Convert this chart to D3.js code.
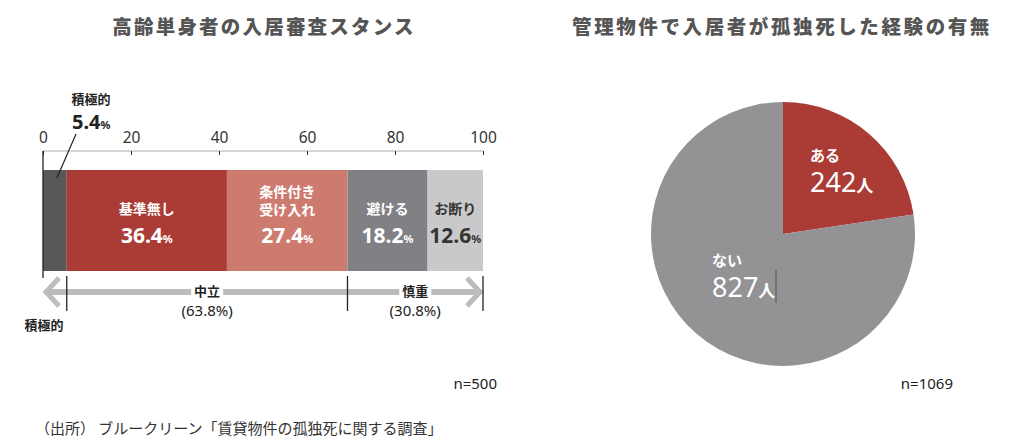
<!DOCTYPE html>
<html><head><meta charset="utf-8">
<script src="https://cdn.jsdelivr.net/npm/d3@7"></script>
<style>
body{margin:0;background:#fff;}
svg{display:block;font-family:"Noto Sans CJK JP","Noto Sans",sans-serif;}
</style></head>
<body>
<svg id="c" width="1012" height="446"></svg>
<script>
// ---- data ----
const barCategories = ["積極的","基準無し","条件付き受け入れ","避ける","お断り"];
const barLabelLines = [["積極的"],["基準無し"],["条件付き","受け入れ"],["避ける"],["お断り"]];
const barValues = [5.4, 36.4, 27.4, 18.2, 12.6];
const barColors = ["#58585a","#aa3b35","#cd7b6f","#818185","#c9c9cb"];
const barTextColors = ["#fff","#fff","#fff","#fff","#333"];
const axisTicks = [0,20,40,60,80,100];
const groupNames = ["中立","慎重"];
const groupValues = [63.8, 30.8];
const groupRanges = [[5.4,69.2],[69.2,100]];
const pieCategories = ["ある","ない"];
const pieValues = [242, 827];
const pieColors = ["#aa3b35","#939396"];
const titles = ["高齢単身者の入居審査スタンス","管理物件で入居者が孤独死した経験の有無"];
const nLabels = ["n=500","n=1069"];
const sourceText = "（出所） ブルークリーン「賃貸物件の孤独死に関する調査」";

const svg = d3.select("#c");
const txtGray = "#555";

// titles
svg.append("text").attr("x",264).attr("y",34).attr("text-anchor","middle")
  .attr("font-size",19.5).attr("font-weight",900).attr("letter-spacing",2.2).attr("fill",txtGray).text(titles[0]);
svg.append("text").attr("x",782).attr("y",34).attr("text-anchor","middle")
  .attr("font-size",19.5).attr("font-weight",900).attr("letter-spacing",2.6).attr("fill",txtGray).text(titles[1]);

// ---- bar chart ----
const x = d3.scaleLinear().domain([0,100]).range([43,483]);
const barTop = 170, barBot = 271;
const axisY = 151;

const ax = svg.append("g").attr("transform",`translate(0,${axisY})`)
  .call(d3.axisTop(x).tickValues(axisTicks).tickSize(-4).tickPadding(8));
ax.select(".domain").attr("stroke","#aaa").attr("d",`M${x(0)},0H${x(100)}`);
ax.selectAll(".tick line").attr("stroke","#333");
ax.selectAll(".tick text").attr("font-size",15.5).attr("fill","#333").attr("font-family","'Noto Sans',sans-serif").attr("dy","0");

// stacked
let cum = 0;
const segs = barValues.map((v,i)=>{const s={i,v,x0:cum,x1:cum+v}; cum+=v; return s;});
svg.append("g").selectAll("rect").data(segs).join("rect")
  .attr("x",d=>x(d.x0)).attr("width",d=>x(d.x1)-x(d.x0))
  .attr("y",barTop).attr("height",barBot-barTop)
  .attr("fill",d=>barColors[d.i]);

// left axis line
svg.append("line").attr("x1",x(0)).attr("x2",x(0)).attr("y1",axisY).attr("y2",278)
  .attr("stroke","#222").attr("stroke-width",1.3);

// inside labels
segs.slice(1).forEach(d=>{
  const cx = (x(d.x0)+x(d.x1))/2;
  const lines = barLabelLines[d.i];
  const g = svg.append("g").attr("fill",barTextColors[d.i]);
  const nameY = lines.length===1 ? 214 : 197;
  lines.forEach((l,k)=>{
    g.append("text").attr("x",cx).attr("y",nameY+k*18).attr("text-anchor","middle")
     .attr("font-size",14).attr("font-weight",700).text(l);
  });
  const t = g.append("text").attr("x",cx).attr("y",243).attr("text-anchor","middle")
    .attr("font-weight",700).attr("font-family","'Noto Sans',sans-serif");
  t.append("tspan").attr("font-size",21).text(d.v.toFixed(1));
  t.append("tspan").attr("font-size",11).text("%");
});

// top callout for 積極的
svg.append("text").attr("x",91).attr("y",104).attr("text-anchor","middle").attr("font-size",13)
  .attr("font-weight",700).attr("fill","#222").text(barCategories[0]);
const ct = svg.append("text").attr("x",72).attr("y",129).attr("font-weight",700).attr("fill","#222")
  .attr("font-family","'Noto Sans',sans-serif");
ct.append("tspan").attr("font-size",20).text(barValues[0].toFixed(1));
ct.append("tspan").attr("font-size",11).text("%");
svg.append("line").attr("x1",76).attr("y1",134).attr("x2",x(barValues[0]/2)+2).attr("y2",178)
  .attr("stroke","#222").attr("stroke-width",1.2);

// arrow bracket
const arrY = 292;
svg.append("line").attr("x1",x(0)+2).attr("x2",x(100)-2).attr("y1",arrY).attr("y2",arrY)
  .attr("stroke","#bcbcbe").attr("stroke-width",6);
svg.append("path").attr("d",`M${x(0)+16},${arrY-14}L${x(0)+3},${arrY}L${x(0)+16},${arrY+14}`)
  .attr("fill","none").attr("stroke","#bcbcbe").attr("stroke-width",5);
svg.append("path").attr("d",`M${x(100)-16},${arrY-14}L${x(100)-3},${arrY}L${x(100)-16},${arrY+14}`)
  .attr("fill","none").attr("stroke","#bcbcbe").attr("stroke-width",5);
[groupRanges[0][0],groupRanges[1][0],100].forEach(v=>{
  svg.append("line").attr("x1",x(v)).attr("x2",x(v)).attr("y1",276).attr("y2",311)
    .attr("stroke","#222").attr("stroke-width",1.3);
});
groupNames.forEach((n,i)=>{
  const cx = (x(groupRanges[i][0])+x(groupRanges[i][1]))/2;
  svg.append("rect").attr("x",cx-16).attr("y",arrY-8).attr("width",32).attr("height",14).attr("fill","#fff");
  svg.append("text").attr("x",cx).attr("y",arrY+4).attr("text-anchor","middle").attr("font-size",13)
    .attr("font-weight",700).attr("fill","#222").text(n);
  svg.append("text").attr("x",cx).attr("y",arrY+24).attr("text-anchor","middle").attr("font-size",15)
    .attr("fill","#222").attr("font-family","'Noto Sans',sans-serif").text(`(${groupValues[i].toFixed(1)}%)`);
});
svg.append("text").attr("x",x(0)+1).attr("y",330).attr("text-anchor","middle").attr("font-size",13)
  .attr("font-weight",700).attr("fill","#222").text(barCategories[0]);

svg.append("text").attr("x",497).attr("y",389).attr("text-anchor","end").attr("font-size",15)
  .attr("fill","#222").attr("font-family","'Noto Sans',sans-serif").text(nLabels[0]);

// ---- pie ----
const pc = [783,234], r = 132;
const pie = d3.pie().sort(null).value(d=>d)(pieValues);
const arc = d3.arc().innerRadius(0).outerRadius(r);
const pg = svg.append("g").attr("transform",`translate(${pc[0]},${pc[1]})`);
pg.selectAll("path").data(pie).join("path").attr("d",arc).attr("fill",(d,i)=>pieColors[i]);

const pieLabelPos = [[810,161],[712,266]];
pieCategories.forEach((c,i)=>{
  const [lx,ly] = pieLabelPos[i];
  svg.append("text").attr("x",lx).attr("y",ly).attr("font-size",15).attr("font-weight",700)
    .attr("fill","#fff").text(c);
  const t = svg.append("text").attr("x",lx).attr("y",ly+31).attr("fill","#fff");
  t.append("tspan").attr("font-size",27).attr("font-family","'Noto Sans',sans-serif").text(pieValues[i]);
  t.append("tspan").attr("font-size",17).attr("font-weight",700).text("人");
});
svg.append("line").attr("x1",776).attr("x2",776).attr("y1",270).attr("y2",303).attr("stroke","#555").attr("stroke-width",1);

svg.append("text").attr("x",953).attr("y",389).attr("text-anchor","end").attr("font-size",15)
  .attr("fill","#222").attr("font-family","'Noto Sans',sans-serif").text(nLabels[1]);

// source
svg.append("text").attr("x",35).attr("y",434).attr("font-size",15).attr("fill","#333").text(sourceText);
</script>
</body></html>
